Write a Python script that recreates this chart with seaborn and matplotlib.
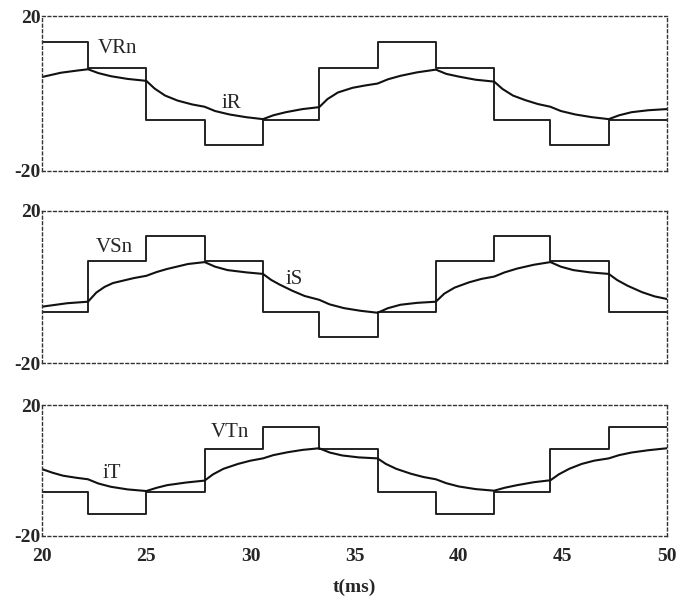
import matplotlib
matplotlib.use("Agg")
import matplotlib.pyplot as plt
import seaborn as sns
import pandas as pd

# ---- data ----
step_t = [20, 22.2, 25.0, 27.8, 30.6, 33.3, 36.1, 38.9, 41.7, 44.4, 47.2, 50]
VRn = [13.3, 6.7, -6.7, -13.3, -6.7, 6.7, 13.3, 6.7, -6.7, -13.3, -6.7, -6.7]
VSn = [-6.7, 6.7, 13.3, 6.7, -6.7, -13.3, -6.7, 6.7, 13.3, 6.7, -6.7, -6.7]
VTn = [-6.7, -13.3, -6.7, 6.7, 13.3, 6.7, -6.7, -13.3, -6.7, 6.7, 13.3, 13.3]

iR_t = [20, 20.9, 21.6, 22.2, 22.7, 23.3, 24.1, 25.0, 25.4, 25.9, 26.5, 27.2, 27.8,
        28.3, 29.0, 29.8, 30.6, 31.1, 31.7, 32.5, 33.3, 33.7, 34.2, 34.9, 35.5, 36.1,
        36.6, 37.2, 38.0, 38.9, 39.4, 40.0, 40.8, 41.7, 42.1, 42.6, 43.2, 43.8, 44.4,
        44.9, 45.6, 46.4, 47.2, 47.7, 48.3, 49.1, 50]
iR = [4.3, 5.4, 5.9, 6.3, 5.3, 4.5, 3.8, 3.3, 1.3, -0.5, -1.8, -2.8, -3.4,
      -4.5, -5.4, -6.1, -6.6, -5.6, -4.8, -4.0, -3.5, -1.4, 0.3, 1.5, 2.1, 2.6,
      3.7, 4.6, 5.5, 6.2, 5.1, 4.4, 3.6, 3.1, 1.2, -0.5, -1.7, -2.7, -3.4,
      -4.5, -5.4, -6.1, -6.6, -5.6, -4.8, -4.3, -4.0]

iS_t = [20, 21.2, 22.2, 22.6, 23.0, 23.4, 24.4, 25.0, 25.5, 26.0, 27.0, 27.8, 28.3,
        28.9, 29.8, 30.6, 31.0, 31.4, 32.0, 32.6, 33.3, 33.8, 34.5, 35.3, 36.1, 36.6,
        37.2, 38.0, 38.9, 39.3, 39.8, 40.5, 41.1, 41.7, 42.2, 42.8, 43.6, 44.4, 44.9,
        45.5, 46.3, 47.2, 47.6, 48.1, 48.8, 49.4, 50]
iS = [-5.2, -4.3, -3.9, -1.5, 0.0, 1.0, 2.3, 2.9, 3.9, 4.7, 6.0, 6.5, 5.3,
      4.4, 3.8, 3.4, 1.8, 0.6, -1.0, -2.4, -3.4, -4.6, -5.6, -6.3, -6.8, -5.6,
      -4.7, -4.2, -3.9, -1.8, -0.2, 1.2, 2.1, 2.7, 3.8, 4.8, 5.8, 6.5, 5.3,
      4.4, 3.8, 3.4, 1.8, 0.3, -1.4, -2.5, -3.2]

iT_t = [20, 20.5, 21.0, 21.6, 22.2, 22.7, 23.3, 24.1, 25.0, 25.5, 26.0, 26.9, 27.8,
        28.2, 28.7, 29.4, 30.0, 30.6, 31.1, 31.8, 32.5, 33.3, 33.8, 34.4, 35.2, 36.1,
        36.5, 37.0, 37.7, 38.3, 38.9, 39.4, 40.0, 40.8, 41.7, 42.2, 42.8, 43.6, 44.4,
        44.8, 45.3, 45.9, 46.5, 47.2, 47.7, 48.3, 49.1, 50]
iT = [0.4, -0.7, -1.6, -2.2, -2.7, -4.0, -5.0, -5.8, -6.3, -5.3, -4.5, -3.7, -3.1,
      -1.2, 0.5, 2.0, 3.0, 3.7, 4.7, 5.6, 6.3, 6.8, 5.5, 4.6, 4.0, 3.7,
      2.0, 0.5, -1.0, -2.0, -2.7, -3.9, -4.9, -5.7, -6.2, -5.3, -4.5, -3.6, -3.0,
      -1.2, 0.5, 2.0, 3.0, 3.7, 4.7, 5.5, 6.2, 6.8]

x_ticks = [20, 25, 30, 35, 40, 45, 50]
x_label = "t(ms)"

panels = [
    (VRn, iR_t, iR, "VRn", (22.65, 11.7), "iR", (28.6, -2.6)),
    (VSn, iS_t, iS, "VSn", (22.55, 10.3), "iS", (31.7, 2.0)),
    (VTn, iT_t, iT, "VTn", (28.1, 11.6), "iT", (22.9, -1.0)),
]

sns.set_theme(style="white")
plt.rcParams["font.family"] = ["Liberation Serif", "DejaVu Serif"]

fig = plt.figure(figsize=(6.8, 6.02), dpi=100)
boxes = [(0.062, 0.716, 0.919, 0.257),
         (0.062, 0.397, 0.919, 0.253),
         (0.062, 0.110, 0.919, 0.217)]

for i, (box, (V, it, iv, vlab, vpos, ilab, ipos)) in enumerate(zip(boxes, panels)):
    ax = fig.add_axes(box)
    dv = pd.DataFrame({"t": step_t, "v": V})
    di = pd.DataFrame({"t": it, "i": iv})
    sns.lineplot(data=dv, x="t", y="v", ax=ax, color="#222222", lw=1.4,
                 drawstyle="steps-post", estimator=None, sort=False)
    sns.lineplot(data=di, x="t", y="i", ax=ax, color="#111111", lw=1.5,
                 estimator=None, sort=False)
    ax.set_xlim(20, 50)
    ax.set_ylim(-20, 20)
    ax.set_xlabel("")
    ax.set_ylabel("")
    ax.set_yticks([-20, 20])
    ax.set_yticklabels(["-20", "20"], fontsize=14, fontweight="bold")
    ax.tick_params(axis="y", length=0, pad=1)
    if i == 2:
        ax.set_xticks(x_ticks)
        ax.set_xticklabels([str(v) for v in x_ticks], fontsize=14, fontweight="bold")
        ax.tick_params(axis="x", length=0, pad=9)
        ax.set_xlabel(x_label, fontsize=14, fontweight="bold", labelpad=10)
    else:
        ax.set_xticks([])
    for sp in ax.spines.values():
        sp.set_linestyle((0, (2, 2)))
        sp.set_linewidth(1.0)
        sp.set_color("#333333")
        sp.set_visible(True)
    ax.text(vpos[0], vpos[1], vlab, fontsize=15, va="center", ha="left")
    ax.text(ipos[0], ipos[1], ilab, fontsize=15, va="center", ha="left")

fig.savefig("out.png", dpi=100)
